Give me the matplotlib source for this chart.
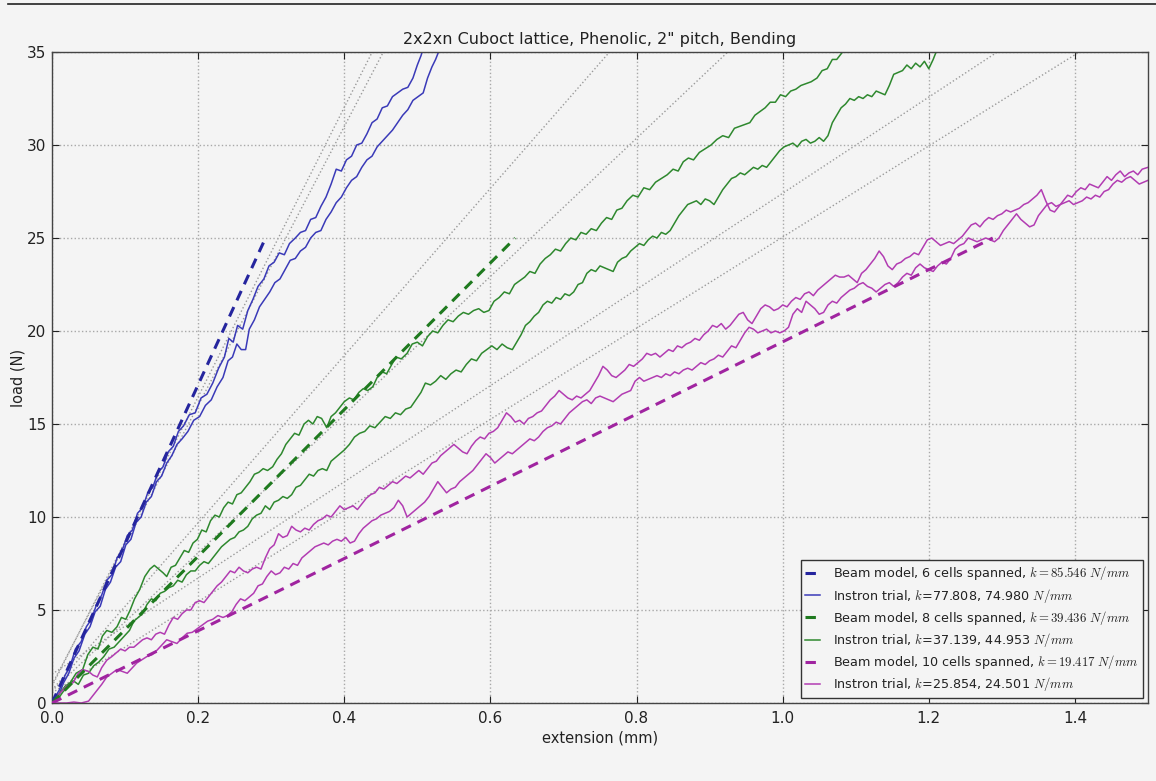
import numpy as np
import matplotlib
matplotlib.use("Agg")
import matplotlib.pyplot as plt
from matplotlib.lines import Line2D

plt.rcParams['mathtext.fontset'] = 'cm'
plt.rcParams['font.family'] = ['DejaVu Sans']

TITLE = '2x2xn Cuboct lattice, Phenolic, 2" pitch, Bending'
X_LABEL = 'extension (mm)'
Y_LABEL = 'load (N)'
X_TICKS = [0.0, 0.2, 0.4, 0.6, 0.8, 1.0, 1.2, 1.4]
Y_TICKS = [0, 5, 10, 15, 20, 25, 30, 35]

# Beam model stiffness (N/mm), plotted up to 25 N
BEAM_K = [85.546, 39.436, 19.417]
BEAM_MAX_LOAD = 25.0
# Linear fits of the Instron trials (slope, intercept)
FIT_SLOPES = [77.808, 74.980, 44.953, 37.139, 25.854, 24.501]
FIT_INTERCEPTS = [0.9, 1.0, 0.7, 0.65, 1.55, 0.55]

# Instron trials, 6 cells (blue)
B1_X = [0.000, 0.010, 0.018, 0.025, 0.032, 0.040, 0.047, 0.054, 0.061, 0.068, 0.075, 0.082, 0.089, 0.096,
        0.103, 0.110, 0.117, 0.124, 0.131, 0.138, 0.145, 0.152, 0.159, 0.166, 0.173, 0.180, 0.188, 0.196,
        0.204, 0.212, 0.220, 0.228, 0.236, 0.242, 0.248, 0.254, 0.261, 0.268, 0.275, 0.282, 0.290, 0.297,
        0.304, 0.311, 0.318, 0.325, 0.333, 0.340, 0.347, 0.354, 0.361, 0.368, 0.375, 0.382, 0.389, 0.396,
        0.403, 0.410, 0.417, 0.424, 0.431, 0.438, 0.445, 0.452, 0.459, 0.466, 0.473, 0.480, 0.487, 0.494,
        0.500, 0.505, 0.509]
B1_Y = [0.0, 0.7, 1.5, 2.0, 2.9, 3.3, 4.1, 4.5, 5.3, 5.8, 6.6, 6.9, 7.8, 8.2,
        9.0, 9.3, 10.2, 10.5, 11.3, 11.6, 12.4, 12.7, 13.5, 13.8, 14.6, 14.9, 15.5, 15.6,
        16.4, 16.6, 17.2, 18.0, 18.6, 19.6, 19.4, 20.3, 20.1, 21.1, 21.7, 22.4, 22.8, 23.5,
        23.7, 24.2, 24.1, 24.7, 25.0, 25.3, 25.4, 26.0, 26.1, 26.7, 27.2, 27.9, 28.7, 28.6,
        29.2, 29.4, 30.0, 30.1, 30.6, 31.2, 31.4, 32.0, 32.1, 32.6, 32.8, 33.0, 33.1, 33.6,
        34.3, 34.8, 35.3]
B2_X = [0.000, 0.008, 0.016, 0.023, 0.030, 0.037, 0.045, 0.052, 0.059, 0.066, 0.073, 0.080, 0.087, 0.094,
        0.101, 0.108, 0.115, 0.122, 0.129, 0.136, 0.143, 0.150, 0.157, 0.164, 0.171, 0.178, 0.186, 0.194,
        0.202, 0.210, 0.218, 0.226, 0.234, 0.241, 0.247, 0.253, 0.259, 0.265, 0.270, 0.277, 0.284, 0.291,
        0.298, 0.305, 0.312, 0.319, 0.326, 0.333, 0.340, 0.347, 0.354, 0.361, 0.368, 0.375, 0.382, 0.389,
        0.396, 0.403, 0.410, 0.417, 0.424, 0.431, 0.438, 0.445, 0.452, 0.459, 0.466, 0.473, 0.480, 0.487,
        0.494, 0.501, 0.508, 0.514, 0.520, 0.525, 0.531]
B2_Y = [0.0, 0.3, 1.1, 1.6, 2.4, 2.8, 3.7, 4.1, 4.9, 5.2, 6.1, 6.5, 7.3, 7.6,
        8.5, 8.8, 9.7, 10.0, 10.8, 11.1, 11.9, 12.2, 12.9, 13.3, 13.9, 14.2, 14.6, 15.2,
        15.4, 16.0, 16.3, 17.0, 17.5, 18.4, 18.6, 19.3, 19.0, 19.0, 20.1, 20.6, 21.3, 21.7,
        22.1, 22.6, 22.8, 23.3, 23.8, 23.9, 24.3, 24.5, 25.0, 25.3, 25.4, 26.0, 26.4, 26.9,
        27.2, 27.7, 28.1, 28.3, 28.8, 29.2, 29.4, 29.9, 30.2, 30.5, 30.8, 31.2, 31.6, 31.9,
        32.4, 32.6, 32.8, 33.6, 34.2, 34.6, 35.2]

# Instron trials, 8 cells (green)
G1_X = [0.000, 0.010, 0.018, 0.025, 0.033, 0.042, 0.049, 0.056, 0.063, 0.069, 0.075, 0.082, 0.089, 0.095,
        0.101, 0.107, 0.113, 0.120, 0.127, 0.134, 0.140, 0.146, 0.152, 0.157, 0.163, 0.169, 0.175, 0.181,
        0.187, 0.193, 0.199, 0.205, 0.211, 0.217, 0.223, 0.229, 0.235, 0.241, 0.247, 0.253, 0.259, 0.265,
        0.271, 0.277, 0.283, 0.289, 0.295, 0.302, 0.308, 0.314, 0.320, 0.326, 0.332, 0.338, 0.345, 0.351,
        0.357, 0.363, 0.369, 0.376, 0.382, 0.388, 0.394, 0.400, 0.407, 0.413, 0.420, 0.426, 0.432, 0.439,
        0.445, 0.452, 0.458, 0.465, 0.471, 0.478, 0.486, 0.493, 0.500, 0.507, 0.514, 0.521, 0.528, 0.535,
        0.542, 0.549, 0.556, 0.563, 0.570, 0.577, 0.584, 0.591, 0.598, 0.605, 0.612, 0.619, 0.626, 0.633,
        0.640, 0.647, 0.654, 0.661, 0.668, 0.675, 0.682, 0.689, 0.696, 0.703, 0.710, 0.717, 0.724, 0.731,
        0.738, 0.745, 0.752, 0.759, 0.766, 0.773, 0.780, 0.787, 0.795, 0.802, 0.810, 0.818, 0.826, 0.834,
        0.842, 0.850, 0.857, 0.864, 0.871, 0.878, 0.886, 0.894, 0.902, 0.910, 0.918, 0.926, 0.934, 0.941,
        0.948, 0.955, 0.962, 0.969, 0.976, 0.983, 0.990, 0.997, 1.004, 1.011, 1.018, 1.025, 1.032, 1.039,
        1.047, 1.054, 1.061, 1.068, 1.074, 1.080, 1.086]
G1_Y = [0.0, 0.5, 0.9, 1.1, 1.6, 1.8, 2.6, 3.0, 2.9, 3.6, 3.9, 3.8, 4.1, 4.6,
        4.5, 5.0, 5.6, 6.1, 6.8, 7.2, 7.4, 7.2, 7.0, 6.8, 7.3, 7.4, 7.8, 8.2,
        8.1, 8.6, 8.8, 9.3, 9.2, 9.8, 10.1, 10.0, 10.5, 10.8, 10.7, 11.2, 11.3, 11.6,
        11.9, 12.3, 12.4, 12.6, 12.5, 12.7, 13.1, 13.4, 13.9, 14.2, 14.5, 14.4, 15.0, 15.2,
        15.0, 15.4, 15.3, 14.8, 15.4, 15.6, 15.9, 16.2, 16.4, 16.3, 16.7, 16.9, 16.8, 17.0,
        17.5, 17.8, 17.7, 18.2, 18.6, 18.5, 18.8, 19.3, 19.4, 19.2, 19.7, 20.0, 19.9, 20.3,
        20.6, 20.5, 20.8, 21.0, 20.9, 21.1, 21.2, 21.0, 21.1, 21.6, 21.8, 22.1, 22.0, 22.5,
        22.7, 22.9, 23.2, 23.1, 23.6, 23.9, 24.1, 24.4, 24.3, 24.7, 25.0, 24.9, 25.3, 25.2,
        25.5, 25.4, 25.8, 26.1, 26.0, 26.5, 26.6, 27.0, 27.3, 27.2, 27.7, 27.6, 28.0, 28.2,
        28.4, 28.7, 28.6, 29.1, 29.3, 29.2, 29.6, 29.8, 30.0, 30.3, 30.5, 30.4, 30.9, 31.0,
        31.1, 31.2, 31.6, 31.8, 32.0, 32.3, 32.3, 32.7, 32.6, 32.9, 33.0, 33.2, 33.3, 33.4,
        33.6, 34.0, 34.1, 34.6, 34.6, 34.9, 35.2]
G2_X = [0.000, 0.008, 0.015, 0.022, 0.029, 0.036, 0.043, 0.050, 0.057, 0.064, 0.071, 0.078, 0.085, 0.092,
        0.099, 0.106, 0.112, 0.118, 0.124, 0.130, 0.136, 0.142, 0.148, 0.154, 0.160, 0.166, 0.172, 0.178,
        0.184, 0.190, 0.196, 0.202, 0.208, 0.214, 0.220, 0.226, 0.232, 0.238, 0.244, 0.250, 0.256, 0.262,
        0.268, 0.274, 0.280, 0.286, 0.292, 0.298, 0.304, 0.310, 0.316, 0.322, 0.328, 0.334, 0.340, 0.346,
        0.352, 0.358, 0.364, 0.370, 0.376, 0.382, 0.388, 0.394, 0.400, 0.407, 0.414, 0.421, 0.428, 0.435,
        0.442, 0.449, 0.456, 0.463, 0.470, 0.477, 0.484, 0.491, 0.498, 0.505, 0.511, 0.518, 0.525, 0.532,
        0.539, 0.546, 0.553, 0.560, 0.567, 0.574, 0.581, 0.588, 0.595, 0.602, 0.609, 0.616, 0.623, 0.630,
        0.636, 0.642, 0.648, 0.654, 0.660, 0.666, 0.672, 0.678, 0.684, 0.690, 0.696, 0.702, 0.708, 0.714,
        0.720, 0.726, 0.732, 0.738, 0.744, 0.750, 0.756, 0.762, 0.768, 0.774, 0.780, 0.786, 0.792, 0.798,
        0.804, 0.810, 0.816, 0.822, 0.828, 0.834, 0.840, 0.846, 0.852, 0.858, 0.864, 0.870, 0.876, 0.882,
        0.888, 0.894, 0.900, 0.906, 0.912, 0.918, 0.924, 0.930, 0.936, 0.942, 0.948, 0.954, 0.960, 0.966,
        0.972, 0.978, 0.984, 0.990, 0.996, 1.002, 1.008, 1.014, 1.020, 1.026, 1.032, 1.038, 1.044, 1.050,
        1.056, 1.062, 1.068, 1.074, 1.080, 1.086, 1.092, 1.098, 1.104, 1.110, 1.116, 1.122, 1.128, 1.134,
        1.140, 1.146, 1.152, 1.158, 1.164, 1.170, 1.176, 1.182, 1.188, 1.194, 1.200, 1.206, 1.212]
G2_Y = [0.0, 0.2, 0.6, 0.9, 1.2, 1.0, 1.5, 1.6, 2.0, 2.2, 2.5, 2.9, 3.0, 3.3,
        3.6, 3.9, 4.4, 4.6, 4.8, 5.3, 5.6, 5.5, 5.9, 6.0, 6.2, 6.3, 6.6, 6.5,
        6.9, 7.1, 7.1, 7.4, 7.6, 7.5, 7.8, 8.1, 8.4, 8.6, 8.8, 8.9, 9.2, 9.3,
        9.5, 9.9, 10.1, 10.2, 10.6, 10.4, 10.8, 10.9, 11.1, 11.0, 11.2, 11.6, 11.7, 12.0,
        12.3, 12.2, 12.5, 12.6, 12.5, 13.0, 13.2, 13.4, 13.6, 13.9, 14.3, 14.5, 14.6, 14.9,
        14.8, 15.1, 15.4, 15.3, 15.6, 15.5, 15.8, 15.9, 16.3, 16.7, 17.2, 17.1, 17.3, 17.6,
        17.4, 17.7, 17.9, 17.8, 18.2, 18.5, 18.4, 18.8, 19.0, 19.2, 19.0, 19.3, 19.1, 19.0,
        19.4, 19.8, 20.3, 20.5, 20.8, 21.0, 21.4, 21.6, 21.5, 21.8, 21.7, 22.0, 21.9, 22.1,
        22.5, 22.6, 23.1, 23.3, 23.2, 23.5, 23.4, 23.3, 23.2, 23.7, 23.9, 24.0, 24.3, 24.5,
        24.7, 24.6, 24.9, 25.1, 25.0, 25.3, 25.2, 25.4, 25.8, 26.2, 26.5, 26.8, 26.9, 27.0,
        26.8, 27.1, 27.0, 26.8, 27.2, 27.6, 27.9, 28.2, 28.3, 28.5, 28.4, 28.6, 28.8, 28.7,
        28.9, 28.8, 29.1, 29.4, 29.7, 29.9, 30.0, 30.1, 29.9, 30.2, 30.3, 30.1, 30.2, 30.4,
        30.2, 30.5, 31.2, 31.6, 32.0, 32.2, 32.5, 32.4, 32.6, 32.5, 32.7, 32.6, 32.9, 32.8,
        32.7, 33.2, 33.8, 33.9, 34.0, 34.3, 34.1, 34.4, 34.2, 34.5, 34.1, 34.6, 35.2]

# Instron trials, 10 cells (magenta)
M1_X = [0.000, 0.010, 0.020, 0.029, 0.036, 0.042, 0.050, 0.056, 0.062, 0.068, 0.075, 0.082, 0.088, 0.094,
        0.100, 0.106, 0.112, 0.118, 0.124, 0.130, 0.136, 0.142, 0.148, 0.154, 0.160, 0.166, 0.172, 0.178,
        0.184, 0.190, 0.196, 0.202, 0.208, 0.214, 0.220, 0.226, 0.232, 0.238, 0.244, 0.250, 0.256, 0.262,
        0.268, 0.274, 0.280, 0.286, 0.292, 0.298, 0.304, 0.310, 0.316, 0.322, 0.328, 0.334, 0.340, 0.346,
        0.352, 0.358, 0.364, 0.370, 0.376, 0.382, 0.388, 0.394, 0.400, 0.406, 0.412, 0.418, 0.424, 0.430,
        0.436, 0.442, 0.448, 0.454, 0.460, 0.466, 0.472, 0.478, 0.484, 0.490, 0.496, 0.502, 0.508, 0.514,
        0.520, 0.526, 0.532, 0.538, 0.544, 0.550, 0.556, 0.562, 0.568, 0.574, 0.580, 0.586, 0.592, 0.598,
        0.604, 0.610, 0.616, 0.622, 0.628, 0.634, 0.640, 0.646, 0.652, 0.658, 0.664, 0.670, 0.676, 0.682,
        0.688, 0.694, 0.700, 0.706, 0.712, 0.718, 0.724, 0.730, 0.736, 0.742, 0.748, 0.754, 0.760, 0.766,
        0.772, 0.778, 0.784, 0.790, 0.796, 0.802, 0.808, 0.814, 0.820, 0.826, 0.832, 0.838, 0.844, 0.850,
        0.856, 0.862, 0.868, 0.874, 0.880, 0.886, 0.892, 0.898, 0.904, 0.910, 0.916, 0.922, 0.928, 0.934,
        0.940, 0.946, 0.952, 0.958, 0.964, 0.970, 0.976, 0.982, 0.988, 0.994, 1.000, 1.006, 1.012, 1.018,
        1.024, 1.030, 1.036, 1.042, 1.048, 1.054, 1.060, 1.066, 1.072, 1.078, 1.084, 1.090, 1.096, 1.102,
        1.108, 1.114, 1.120, 1.126, 1.132, 1.138, 1.144, 1.150, 1.156, 1.162, 1.168, 1.174, 1.180, 1.186,
        1.192, 1.198, 1.204, 1.210, 1.216, 1.222, 1.228, 1.234, 1.240, 1.246, 1.252, 1.258, 1.264, 1.270,
        1.276, 1.282, 1.288, 1.294, 1.300, 1.306, 1.312, 1.318, 1.324, 1.330, 1.336, 1.342, 1.348, 1.354,
        1.360, 1.366, 1.372, 1.378, 1.384, 1.390, 1.396, 1.402, 1.408, 1.414, 1.420, 1.426, 1.432, 1.438,
        1.444, 1.450, 1.456, 1.462, 1.468, 1.474, 1.480, 1.486, 1.492, 1.500]
M1_Y = [0.0, 0.5, 0.9, 1.1, 1.6, 1.8, 1.7, 1.5, 1.4, 1.9, 2.3, 2.5, 2.7, 2.9,
        2.8, 3.0, 3.0, 3.2, 3.4, 3.5, 3.4, 3.7, 3.8, 3.7, 4.2, 4.6, 4.5, 4.8,
        5.0, 5.0, 5.4, 5.5, 5.4, 5.7, 6.0, 6.3, 6.5, 6.8, 7.1, 7.0, 7.3, 7.1,
        7.0, 7.2, 7.3, 7.2, 7.8, 8.3, 8.5, 9.1, 8.9, 9.0, 9.5, 9.3, 9.2, 9.4,
        9.3, 9.6, 9.8, 9.9, 10.1, 10.0, 10.3, 10.6, 10.4, 10.5, 10.6, 10.4, 10.7, 11.0,
        11.2, 11.3, 11.6, 11.5, 11.7, 11.9, 11.8, 12.0, 12.2, 12.1, 12.3, 12.5, 12.3, 12.6,
        12.9, 13.0, 13.3, 13.5, 13.7, 13.9, 13.7, 13.5, 13.4, 13.8, 14.1, 14.3, 14.2, 14.5,
        14.6, 14.8, 15.2, 15.6, 15.4, 15.1, 15.2, 15.0, 15.3, 15.4, 15.6, 15.7, 16.0, 16.3,
        16.5, 16.8, 16.6, 16.4, 16.3, 16.5, 16.4, 16.6, 16.8, 17.2, 17.6, 18.1, 17.9, 17.6,
        17.5, 17.7, 17.9, 18.2, 18.1, 18.3, 18.5, 18.8, 18.7, 18.8, 18.6, 18.8, 19.0, 18.9,
        19.2, 19.1, 19.3, 19.4, 19.6, 19.5, 19.8, 20.0, 20.3, 20.2, 20.4, 20.1, 20.3, 20.6,
        20.9, 21.0, 20.6, 20.4, 20.8, 21.2, 21.4, 21.3, 21.1, 21.2, 21.4, 21.3, 21.6, 21.8,
        21.7, 22.0, 22.1, 21.9, 22.2, 22.4, 22.6, 22.8, 23.0, 22.9, 22.9, 23.0, 22.8, 22.6,
        23.1, 23.3, 23.6, 23.9, 24.3, 24.0, 23.5, 23.3, 23.6, 23.7, 23.9, 24.0, 24.2, 24.1,
        24.5, 24.9, 25.0, 24.8, 24.6, 24.7, 24.8, 24.7, 24.9, 25.1, 25.4, 25.7, 25.8, 25.6,
        25.9, 26.1, 26.0, 26.2, 26.3, 26.5, 26.4, 26.5, 26.6, 26.8, 26.9, 27.1, 27.3, 27.6,
        27.0, 26.5, 26.4, 26.7, 27.0, 27.3, 27.2, 27.5, 27.7, 27.6, 27.9, 27.8, 27.7, 28.0,
        28.3, 28.1, 28.4, 28.6, 28.3, 28.5, 28.6, 28.4, 28.7, 28.8]
M2_X = [0.000, 0.010, 0.020, 0.030, 0.040, 0.050, 0.056, 0.062, 0.068, 0.075, 0.082, 0.089, 0.096, 0.103,
        0.110, 0.116, 0.122, 0.130, 0.137, 0.144, 0.150, 0.157, 0.164, 0.171, 0.178, 0.185, 0.192, 0.199,
        0.206, 0.213, 0.220, 0.227, 0.234, 0.240, 0.246, 0.252, 0.258, 0.264, 0.270, 0.276, 0.282, 0.288,
        0.294, 0.300, 0.306, 0.312, 0.318, 0.324, 0.330, 0.336, 0.342, 0.348, 0.354, 0.360, 0.366, 0.372,
        0.378, 0.384, 0.390, 0.396, 0.402, 0.408, 0.414, 0.420, 0.426, 0.432, 0.438, 0.444, 0.450, 0.456,
        0.462, 0.468, 0.474, 0.480, 0.486, 0.492, 0.498, 0.504, 0.510, 0.516, 0.522, 0.528, 0.534, 0.540,
        0.546, 0.552, 0.558, 0.564, 0.570, 0.576, 0.582, 0.588, 0.594, 0.600, 0.606, 0.612, 0.618, 0.624,
        0.630, 0.636, 0.642, 0.648, 0.654, 0.660, 0.666, 0.672, 0.678, 0.684, 0.690, 0.696, 0.702, 0.708,
        0.714, 0.720, 0.726, 0.732, 0.738, 0.744, 0.750, 0.756, 0.762, 0.768, 0.774, 0.780, 0.786, 0.792,
        0.798, 0.804, 0.810, 0.816, 0.822, 0.828, 0.834, 0.840, 0.846, 0.852, 0.858, 0.864, 0.870, 0.876,
        0.882, 0.888, 0.894, 0.900, 0.906, 0.912, 0.918, 0.924, 0.930, 0.936, 0.942, 0.948, 0.954, 0.960,
        0.966, 0.972, 0.978, 0.984, 0.990, 0.996, 1.002, 1.008, 1.014, 1.020, 1.026, 1.032, 1.038, 1.044,
        1.050, 1.056, 1.062, 1.068, 1.074, 1.080, 1.086, 1.092, 1.098, 1.104, 1.110, 1.116, 1.122, 1.128,
        1.134, 1.140, 1.146, 1.152, 1.158, 1.164, 1.170, 1.176, 1.182, 1.188, 1.194, 1.200, 1.206, 1.212,
        1.218, 1.224, 1.230, 1.236, 1.242, 1.248, 1.254, 1.260, 1.266, 1.272, 1.278, 1.284, 1.290, 1.296,
        1.302, 1.308, 1.314, 1.320, 1.326, 1.332, 1.338, 1.344, 1.350, 1.356, 1.362, 1.368, 1.374, 1.380,
        1.386, 1.392, 1.398, 1.404, 1.410, 1.416, 1.422, 1.428, 1.434, 1.440, 1.446, 1.452, 1.458, 1.464,
        1.470, 1.476, 1.482, 1.488, 1.494, 1.500]
M2_Y = [0.0, 0.0, 0.0, 0.05, 0.0, 0.1, 0.4, 0.7, 1.0, 1.4, 1.6, 1.8, 1.7, 1.6,
        1.9, 2.15, 2.3, 2.5, 2.6, 2.85, 3.1, 3.4, 3.3, 3.2, 3.5, 3.75, 3.8, 4.0,
        4.2, 4.4, 4.5, 4.7, 4.6, 4.7, 4.9, 5.3, 5.6, 5.5, 5.7, 5.9, 6.3, 6.4,
        6.8, 7.1, 6.9, 7.0, 7.3, 7.2, 7.5, 7.4, 7.8, 8.0, 8.2, 8.4, 8.5, 8.6,
        8.5, 8.7, 8.8, 8.7, 8.9, 8.6, 8.7, 9.1, 9.4, 9.6, 9.8, 9.9, 10.1, 10.2,
        10.3, 10.5, 10.9, 10.6, 10.0, 10.2, 10.4, 10.6, 10.8, 11.1, 11.5, 11.9, 11.6, 11.3,
        11.5, 11.6, 11.9, 12.1, 12.3, 12.5, 12.8, 13.1, 13.4, 13.2, 12.9, 13.1, 13.3, 13.5,
        13.4, 13.6, 13.8, 14.0, 14.2, 14.1, 14.3, 14.6, 14.8, 14.9, 15.1, 15.0, 15.3, 15.6,
        15.8, 16.0, 16.2, 16.3, 16.1, 16.4, 16.5, 16.4, 16.3, 16.2, 16.4, 16.6, 16.7, 16.8,
        17.3, 17.5, 17.3, 17.4, 17.5, 17.6, 17.5, 17.7, 17.6, 17.8, 17.7, 17.9, 18.0, 17.9,
        18.1, 18.3, 18.2, 18.4, 18.5, 18.7, 18.6, 18.9, 19.2, 19.1, 19.5, 19.9, 20.2, 20.1,
        19.9, 20.0, 20.1, 19.9, 20.0, 19.9, 20.0, 20.2, 20.9, 21.2, 21.0, 21.6, 21.4, 21.2,
        20.9, 21.0, 21.4, 21.6, 21.5, 21.8, 22.0, 22.2, 22.3, 22.5, 22.6, 22.4, 22.3, 22.1,
        22.3, 22.5, 22.6, 22.4, 22.6, 22.9, 23.1, 23.0, 23.4, 23.6, 23.4, 23.3, 23.2, 23.5,
        23.7, 23.6, 23.9, 24.4, 24.6, 24.7, 25.0, 24.9, 24.8, 24.9, 25.0, 24.9, 24.8, 25.0,
        25.4, 25.7, 26.0, 26.3, 26.0, 25.8, 25.6, 25.7, 26.2, 26.5, 26.8, 26.9, 26.7, 26.8,
        26.9, 27.0, 26.8, 26.9, 27.0, 27.2, 27.1, 27.3, 27.2, 27.5, 27.6, 27.9, 28.1, 28.0,
        28.2, 28.3, 28.1, 27.9, 28.0, 28.1]

LEGEND_LABELS = [
    r'Beam model, 6 cells spanned, $k=85.546\ N/mm$',
    r'Instron trial, $k$=77.808, 74.980 $N/mm$',
    r'Beam model, 8 cells spanned, $k=39.436\ N/mm$',
    r'Instron trial, $k$=37.139, 44.953 $N/mm$',
    r'Beam model, 10 cells spanned, $k=19.417\ N/mm$',
    r'Instron trial, $k$=25.854, 24.501 $N/mm$',
]

COLORS = ['#3a3ab8', '#2e882e', '#b23cb2']
BEAM_COLORS = ['#25259e', '#1f7a1f', '#a024a0']
BG = '#f4f4f4'

fig = plt.figure(figsize=(11.56, 7.81), dpi=100, facecolor=BG)
ax = fig.add_axes([52 / 1156, 78 / 781, 1096 / 1156, 651 / 781], facecolor=BG)

# fit lines (dotted gray)
xx = np.array([0.0, 1.5])
for s, b in zip(FIT_SLOPES, FIT_INTERCEPTS):
    ax.plot(xx, s * xx + b, linestyle=':', color='#9a9a9a', lw=1.0, zorder=1)

trials = [(B1_X, B1_Y, B2_X, B2_Y), (G1_X, G1_Y, G2_X, G2_Y), (M1_X, M1_Y, M2_X, M2_Y)]
for i, (k, (xa, ya, xb, yb)) in enumerate(zip(BEAM_K, trials)):
    xe = BEAM_MAX_LOAD / k
    ax.plot([0, xe], [0, BEAM_MAX_LOAD], color=BEAM_COLORS[i], lw=2.2,
            dashes=(3.4, 2.4), label=LEGEND_LABELS[2 * i], zorder=3)
    ax.plot(xa, ya, color=COLORS[i], lw=1.1, label=LEGEND_LABELS[2 * i + 1], zorder=2)
    ax.plot(xb, yb, color=COLORS[i], lw=1.1, zorder=2)

ax.set_xlim(0, 1.5)
ax.set_ylim(0, 35)
ax.set_xticks(X_TICKS)
ax.set_yticks(Y_TICKS)
ax.set_xticklabels([f'{v:.1f}' for v in X_TICKS])
ax.set_yticklabels([f'{v:d}' for v in Y_TICKS])
ax.tick_params(direction='in', top=True, right=True, length=5, width=0.8,
               labelsize=11, colors='#222222')
ax.tick_params(axis='x', pad=6)
ax.tick_params(axis='y', pad=4)
ax.grid(True, linestyle=':', color='#a8a8a8', lw=1.0)
for sp in ax.spines.values():
    sp.set_color('#444444')
    sp.set_linewidth(1.0)

ax.set_title(TITLE, fontsize=11.5, color='#222222', pad=6)
ax.set_xlabel(X_LABEL, fontsize=10.5, color='#222222', labelpad=3)
ax.set_ylabel(Y_LABEL, fontsize=10.5, color='#222222', labelpad=1)

leg = ax.legend(loc='lower right', fontsize=9.2, handlelength=1.2, labelspacing=0.33,
                handletextpad=1.0, borderpad=0.35, fancybox=False, framealpha=1.0,
                borderaxespad=0.4)
leg.get_frame().set_edgecolor('#333333')
leg.get_frame().set_facecolor(BG)
leg.get_frame().set_linewidth(1.0)
for t in leg.get_texts():
    t.set_color('#222222')

fig.add_artist(Line2D([8 / 1156, 1.0], [1 - 4 / 781, 1 - 4 / 781], color='#222222', lw=1.2))

fig.savefig('out.png', dpi=100, facecolor=BG)
